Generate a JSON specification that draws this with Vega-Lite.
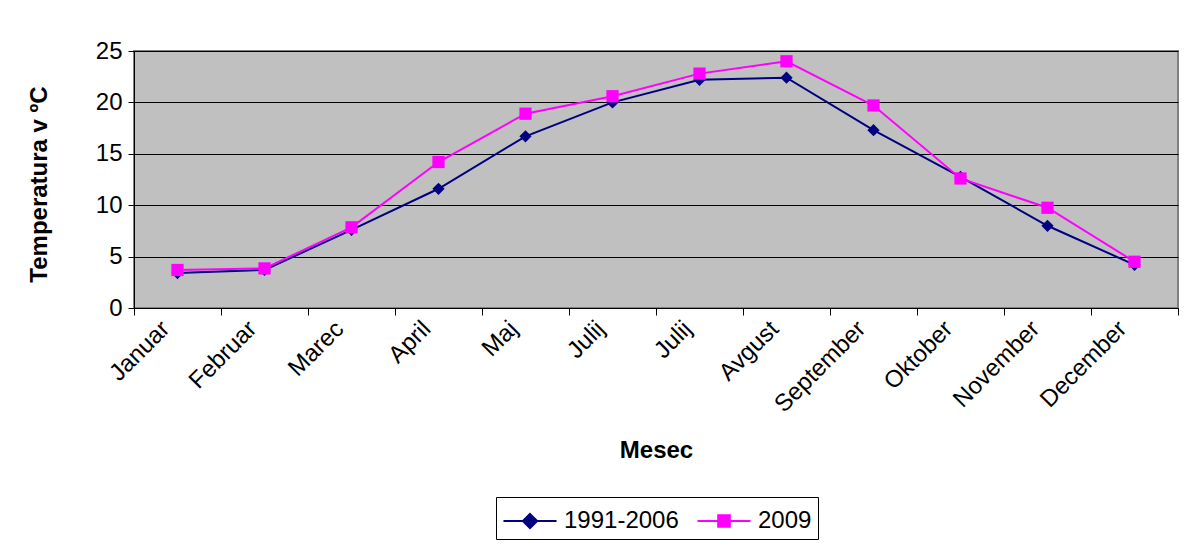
{
  "$schema": "https://vega.github.io/schema/vega-lite/v6.json",
  "width": 1044,
  "height": 257,
  "autosize": {"type": "none"},
  "padding": {"left": 134, "top": 51, "right": 7, "bottom": 237},
  "background": "white",
  "config": {
    "font": "Liberation Sans",
    "view": {"fill": "#C0C0C0", "stroke": "#808080", "strokeWidth": 2}
  },
  "data": {
    "values": [
      {"m": 1, "serija": "1991-2006", "t": 3.4},
      {"m": 2, "serija": "1991-2006", "t": 3.7},
      {"m": 3, "serija": "1991-2006", "t": 7.6},
      {"m": 4, "serija": "1991-2006", "t": 11.6},
      {"m": 5, "serija": "1991-2006", "t": 16.7},
      {"m": 6, "serija": "1991-2006", "t": 20.0},
      {"m": 7, "serija": "1991-2006", "t": 22.2},
      {"m": 8, "serija": "1991-2006", "t": 22.4},
      {"m": 9, "serija": "1991-2006", "t": 17.3},
      {"m": 10, "serija": "1991-2006", "t": 12.75},
      {"m": 11, "serija": "1991-2006", "t": 8.0},
      {"m": 12, "serija": "1991-2006", "t": 4.2},
      {"m": 1, "serija": "2009", "t": 3.7},
      {"m": 2, "serija": "2009", "t": 3.85},
      {"m": 3, "serija": "2009", "t": 7.85},
      {"m": 4, "serija": "2009", "t": 14.2},
      {"m": 5, "serija": "2009", "t": 18.9},
      {"m": 6, "serija": "2009", "t": 20.6},
      {"m": 7, "serija": "2009", "t": 22.8},
      {"m": 8, "serija": "2009", "t": 24.0},
      {"m": 9, "serija": "2009", "t": 19.7},
      {"m": 10, "serija": "2009", "t": 12.6},
      {"m": 11, "serija": "2009", "t": 9.75},
      {"m": 12, "serija": "2009", "t": 4.5}
    ]
  },
  "encoding": {
    "x": {
      "field": "m",
      "type": "ordinal",
      "scale": {"type": "band", "paddingInner": 0, "paddingOuter": 0},
      "axis": {
        "title": "Mesec",
        "titleFont": "Liberation Sans",
        "titleFontSize": 24,
        "titleFontWeight": "bold",
        "titleColor": "black",
        "titleY": 142,
        "titleBaseline": "middle",
        "labelExpr": "['Januar','Februar','Marec','April','Maj','Julij','Julij','Avgust','September','Oktober','November','December'][datum.value - 1]",
        "labelAngle": -45,
        "labelAlign": "right",
        "labelBaseline": "middle",
        "labelFontSize": 24,
        "labelColor": "black",
        "labelPadding": 10,
        "labelOffset": -12,
        "tickBand": "extent",
        "tickSize": 7,
        "tickColor": "black",
        "domainColor": "black",
        "grid": false
      }
    },
    "y": {
      "field": "t",
      "type": "quantitative",
      "scale": {"domain": [0, 25], "nice": false},
      "axis": {
        "values": [0, 5, 10, 15, 20, 25],
        "title": "Temperatura v ºC",
        "titleFont": "Liberation Sans",
        "titleFontSize": 24,
        "titleFontWeight": "bold",
        "titleColor": "black",
        "titleX": -95,
        "titleY": 133,
        "titleAngle": -90,
        "titleBaseline": "middle",
        "titleAlign": "center",
        "labelFontSize": 24,
        "labelColor": "black",
        "labelPadding": 6,
        "tickSize": 6,
        "tickColor": "black",
        "domainColor": "black",
        "grid": true,
        "gridColor": "black",
        "gridWidth": 1,
        "gridOpacity": 1
      }
    }
  },
  "layer": [
    {
      "mark": {"type": "line", "strokeWidth": 2},
      "encoding": {
        "color": {
          "field": "serija",
          "type": "nominal",
          "scale": {"domain": ["1991-2006", "2009"], "range": ["#000080", "#FF00FF"]},
          "legend": {
            "title": null,
            "orient": "none",
            "legendX": 362,
            "legendY": 446,
            "direction": "horizontal",
            "labelFontSize": 24,
            "labelColor": "black",
            "labelFont": "Liberation Sans",
            "symbolSize": 1100,
            "symbolStrokeWidth": 2,
            "symbolOffset": 10,
            "columnPadding": 14,
            "labelOffset": 16,
            "padding": 6,
            "strokeColor": "black",
            "fillColor": "white",
            "encode": {
              "symbols": {
                "update": {
                  "shape": {"signal": "datum.value === '2009' ? 'M-1.6,0H1.6M-0.35,-0.35H0.35V0.35H-0.35Z' : 'M-1.6,0H1.6M0,-0.43L0.43,0L0,0.43L-0.43,0Z'"},
                  "fill": {"scale": "color", "field": "value"},
                  "fillOpacity": {"value": 1}
                }
              }
            }
          }
        }
      }
    },
    {
      "transform": [{"filter": "datum.serija === '1991-2006'"}],
      "mark": {"type": "point", "filled": true, "opacity": 1, "size": 150, "shape": "diamond", "color": "#000080"}
    },
    {
      "transform": [{"filter": "datum.serija === '2009'"}],
      "mark": {"type": "point", "filled": true, "opacity": 1, "size": 150, "shape": "square", "color": "#FF00FF"}
    }
  ]
}
